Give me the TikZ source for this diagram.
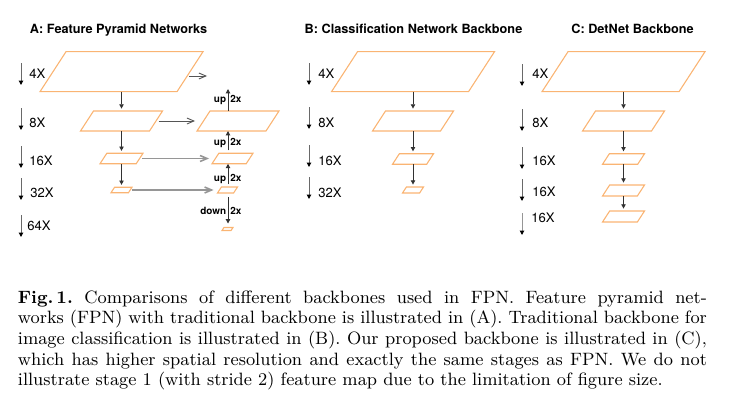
\documentclass[tikz,border=0pt]{standalone}
\usepackage{fontspec}
\newfontfamily\hv{TeX Gyre Heros}
\usetikzlibrary{arrows.meta,calc}
\definecolor{fmap}{RGB}{250,180,115}
\definecolor{dgray}{RGB}{50,50,50}
\definecolor{mgray}{RGB}{85,85,85}
\definecolor{lgray}{RGB}{150,150,150}
\tikzset{
  fmbox/.style 2 args={draw=none, rectangle, inner sep=0pt, outer sep=0pt,
    minimum width=#1*0.5036pt, minimum height=#2*0.5036pt},
  fmline/.style={draw=fmap, line width=0.55pt, line join=miter},
  ttl/.style={font=\hv\fontsize{6.4}{7}\selectfont\bfseries, inner sep=0pt, anchor=base},
  scl/.style={font=\hv\fontsize{6.6}{7}\selectfont, inner sep=0pt, anchor=base west},
  sml/.style={font=\hv\fontsize{5}{6}\selectfont\bfseries, inner sep=0pt},
  scarrow/.style={draw=lgray!70!black, line width=0.5pt, -{Triangle[length=2.2pt,width=2.2pt,color=black]}},
  dnarrow/.style={draw=dgray, line width=0.5pt, -{Triangle[length=2.2pt,width=2.2pt]}},
  latd/.style={draw=mgray, line width=0.45pt, -{Straight Barb[length=3.5pt,width=3pt]}},
  latl/.style={draw=lgray, line width=0.8pt, -{Straight Barb[length=3.5pt,width=3pt]}},
}
% feature map: name, cx, cy, total width, height (px units)
\newcommand\fmap[5]{%
  \node[fmbox={#4}{#5}] (#1) at (#2,#3) {};
  \draw[fmline] ([xshift={#5*0.65*0.5036pt}]#1.north west) -- (#1.north east)
    -- ([xshift={-#5*0.65*0.5036pt}]#1.south east) -- (#1.south west) -- cycle;}
\begin{document}
\begin{tikzpicture}[x=0.5036pt,y=-0.5036pt]
\useasboundingbox (0,0) rectangle (735,401);

% titles
\node[ttl] (tA) at (118.5,33.3) {A: Feature Pyramid Networks};
\node[ttl] (tB) at (413.5,33.3) {B: Classification Network Backbone};
\node[ttl] (tC) at (632.5,33.3) {C: DetNet Backbone};

% scale indicators
\foreach \n/\x/\t/\b/\tx/\ty/\lab in {
  A1/21/63/85/29/78.3/4X, A2/21/108/130/29/127.8/8X, A3/21/146/168/29/165.8/16X,
  A4/21/178/200/30/197.3/32X, A5/21/215/237/27/230.3/64X,
  B1/309/63/85/318/78.3/4X, B2/309/107/129/318/127.8/8X, B3/309/145/167/318/165.8/16X,
  B4/309/177/199/318/197.3/32X,
  C1/522/64/86/532/78.3/4X, C2/522/109/131/532/127.8/8X, C3/522/147/169/532/165.8/16X,
  C4/522/179/201/532/196.8/16X}{
  \coordinate (s\n t) at (\x,\t);
  \coordinate (s\n b) at (\x,\b);
  \draw[scarrow] (s\n t) -- (s\n b);
  \node[scl] (l\n) at (\tx,\ty) {\lab};
}
\coordinate (sC5t) at (522,213);
\coordinate (sC5b) at (522,235);
\draw[scarrow, draw=lgray] (sC5t) -- (sC5b);
\node[scl] (lC5) at (531,222.8) {16X};

% panel A
\fmap{A4}{121.5}{71.7}{163}{40}
\fmap{A8}{121.5}{121}{82}{20}
\fmap{A16}{121.5}{158.5}{43}{10.5}
\fmap{A32}{121.5}{190}{21}{5.5}
\fmap{R8}{238}{121}{82}{20}
\fmap{R16}{232.5}{158.5}{41}{10.5}
\fmap{R32}{227.5}{190}{20}{6}
\fmap{R64}{227.5}{229}{11}{3}

\draw[dnarrow, shorten >=1.2pt] (A4.south) -- (A8.north);
\draw[dnarrow, shorten >=1.2pt] (A8.south) -- (A16.north);
\draw[dnarrow, shorten >=1.2pt] (A16.south) -- (A32.north);

\coordinate (o4) at (189,76);
\coordinate (f4) at (207,76);
\draw[latd] (o4) -- (f4);
\draw[latd, shorten <=-2pt, shorten >=1pt] (A8) -- (R8);
\draw[latl, shorten <=-0.5pt, shorten >=1.5pt] (A16) -- (R16);
\draw[latl, shorten <=0pt, shorten >=2pt] (A32) -- (R32);

\coordinate (ux) at (228,0);
\coordinate (u0) at (228,89);
\draw[dnarrow] (R8.north -| ux) -- (u0);
\draw[dnarrow, shorten <=1.5pt] (R16.north -| ux) -- (R8.south -| ux);
\draw[dnarrow, shorten <=1.5pt] (R32.north -| ux) -- (R16.south -| ux);
\draw[dnarrow, shorten <=2pt, shorten >=2pt] (R32.south -| ux) -- (R64.north -| ux);

\node[sml, anchor=base east] (up1) at (226.5,102.6) {up};
\node[sml, anchor=base west] (x1) at (230,102.6) {2x};
\node[sml, anchor=base east] (up2) at (226.5,145) {up};
\node[sml, anchor=base west] (x2) at (230,145) {2x};
\node[sml, anchor=base east] (up3) at (226.5,181) {up};
\node[sml, anchor=base west] (x3) at (230,181) {2x};
\node[sml, anchor=base east] (dn4) at (226.5,214) {down};
\node[sml, anchor=base west] (x4) at (230,214) {2x};

% panel B
\fmap{B4}{413}{71.7}{163}{40}
\fmap{B8}{413}{121}{81}{20}
\fmap{B16}{413}{159}{41}{10.5}
\fmap{B32}{413}{190}{21}{6}
\draw[dnarrow, shorten >=1.2pt] (B4.south) -- (B8.north);
\draw[dnarrow, shorten >=1.2pt] (B8.south) -- (B16.north);
\draw[dnarrow, shorten >=1.2pt] (B16.south) -- (B32.north);

% panel C
\fmap{C4}{623.5}{71.7}{163}{40}
\fmap{C8}{623.5}{121}{82}{20}
\fmap{C16a}{623.5}{159}{42}{10.5}
\fmap{C16b}{623.5}{190.5}{42}{11}
\fmap{C16c}{623.5}{216.5}{42}{11}
\draw[dnarrow, shorten >=1.2pt] (C4.south) -- (C8.north);
\draw[dnarrow, shorten >=1.2pt] (C8.south) -- (C16a.north);
\draw[dnarrow, shorten >=1.2pt] (C16a.south) -- (C16b.north);
\draw[dnarrow, shorten >=1.2pt] (C16b.south) -- (C16c.north);

% caption
\node[anchor=base west, inner sep=0pt, text width=347pt, align=justify,
  font=\fontsize{9}{10.4}\selectfont] (cap) at (17.5,303.3)
{\frenchspacing\textbf{Fig.\,1.} Comparisons of different backbones used in FPN. Feature pyramid net-\linebreak
works (FPN) with traditional backbone is illustrated in (A). Traditional backbone for\linebreak
image classification is illustrated in (B). Our proposed backbone is illustrated in (C),\linebreak
which has higher spatial resolution and exactly the same stages as FPN. We do not\linebreak
illustrate stage 1 (with stride 2) feature map due to the limitation of figure size.};
\end{tikzpicture}
\end{document}
